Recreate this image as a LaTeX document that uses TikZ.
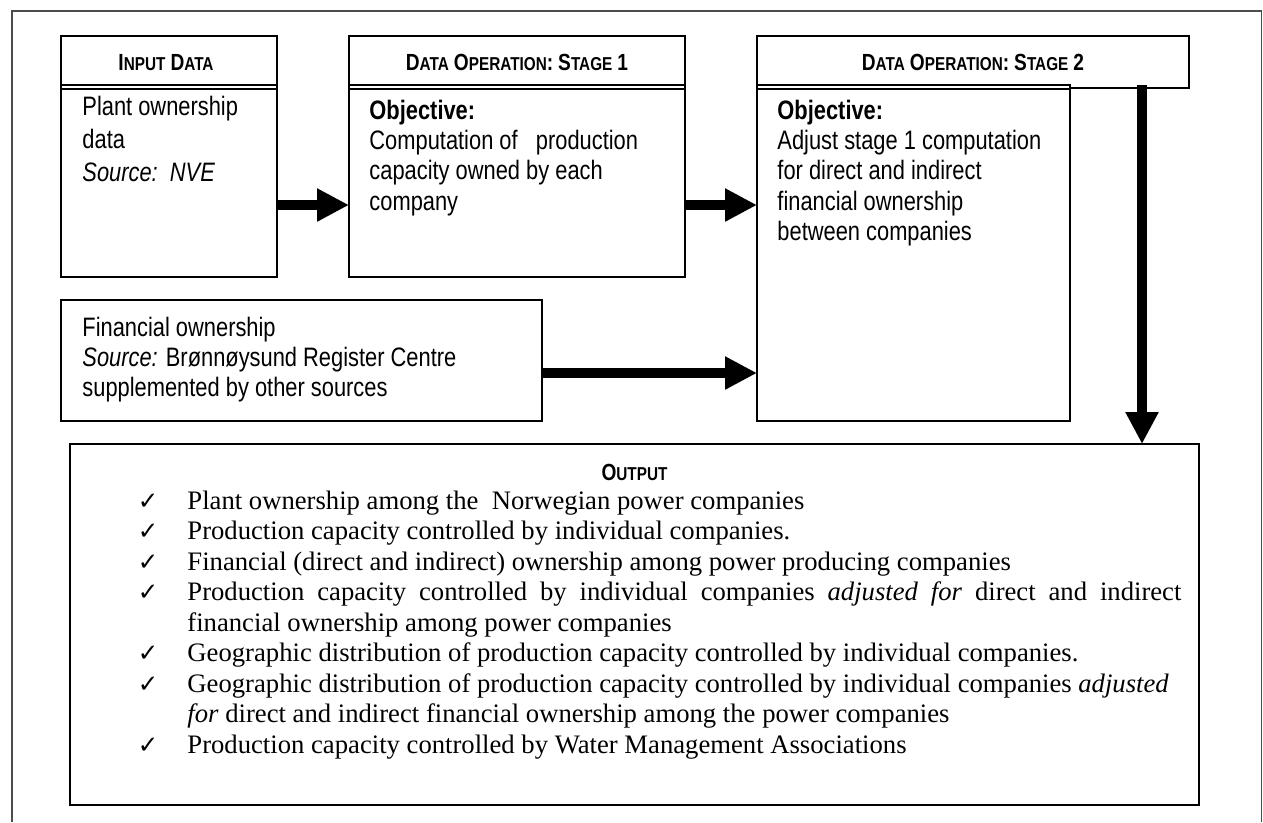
\documentclass[tikz,border=0pt]{standalone}
\usepackage{fontspec}
\setmainfont{Liberation Serif}
\newfontfamily\narrow[FakeStretch=0.82]{Liberation Sans}
\newfontfamily\dejavu{DejaVu Sans}
\usetikzlibrary{arrows.meta}
\newcommand\HSC[2]{{\fontsize{10.5}{12}\selectfont #1}{\fontsize{8.4}{10}\selectfont #2}}
\newcommand\HBG[1]{{\fontsize{10.5}{12}\selectfont #1}}
\newcommand\chk{{\dejavu\fontsize{11}{12}\selectfont ✓}}
\begin{document}
\begin{tikzpicture}[x=0.45pt,y=-0.45pt,
 box/.style={draw, line width=0.9pt, inner sep=0pt, outer sep=0pt},
 obox/.style={draw, line width=1.3pt, inner sep=0pt, outer sep=0pt},
 framestyle/.style={draw=black!70, line width=0.7pt},
 dline/.style={line width=0.9pt},
 sans/.style={inner sep=0pt, anchor=base west, font=\narrow\fontsize{12}{13.7}\selectfont},
 sanswide/.style={inner sep=0pt, anchor=base west, font=\narrow\fontsize{12}{14.85}\selectfont},
 hdrtxt/.style={inner sep=0pt, anchor=base, font=\narrow\bfseries},
 serif/.style={inner sep=0pt, anchor=base west, font=\fontsize{12}{13.7}\selectfont},
 chkmark/.style={inner sep=0pt, anchor=base},
 fat/.style={line width=4.7pt, -{Triangle[length=14.4pt,width=14pt]}},
]
\useasboundingbox (0,0) rectangle (1263,822);
\draw[framestyle] (12,822) -- (12,11) -- (1261.5,11) -- (1261.5,822);

% boxes
\node[box, minimum width=97.2pt, minimum height=108.45pt] (inp) at (169,156.5) {};
\node[box, minimum width=151.2pt, minimum height=108.45pt] (st1) at (517,156.5) {};
\node[box, minimum width=194.4pt, minimum height=23.6pt] (st2h) at (973,62.25) {};
\node[box, fill=white, minimum width=140.85pt, minimum height=151.2pt] (st2b) at (913.5,253) {};
\node[box, minimum width=216.45pt, minimum height=54.45pt] (fin) at (301.5,360.5) {};
\node[obox, minimum width=508.05pt, minimum height=162.45pt] (out) at (634.5,624.5) {};

% header double lines
\draw[dline] (61,85) -- (277,85) (61,88.5) -- (277,88.5);
\draw[dline] (349,85) -- (685,85) (349,88.5) -- (685,88.5);
\draw[dline] (757,88.5) -- (1070,88.5);

% header texts
\node[hdrtxt] (inph) at (166,70.5) {\HSC{I}{NPUT}\ \HSC{D}{ATA}};
\node[hdrtxt] (st1hd) at (517,70.5) {\HSC{D}{ATA} \HSC{O}{PERATION}\HBG{:} \HSC{S}{TAGE} \HBG{1}};
\node[hdrtxt] (st2hd) at (973,70.5) {\HSC{D}{ATA} \HSC{O}{PERATION}\HBG{:} \HSC{S}{TAGE} \HBG{2}};

% body texts
\node[sanswide] (inptxt) at (82,115) {\parbox[t]{180pt}{Plant ownership\\data\\\textit{Source:\ \ NVE}}};
\node[sans] (st1txt) at (369,119) {\parbox[t]{140pt}{\textbf{Objective:}\\Computation of\ \ \ production\\capacity owned by each\\company}};
\node[sans] (st2txt) at (777,119) {\parbox[t]{135pt}{\textbf{Objective:}\\Adjust stage 1 computation\\for direct and indirect\\financial ownership\\between companies}};
\node[sans] (fintxt) at (82,336) {\parbox[t]{200pt}{Financial ownership\\\textit{Source:} Brønnøysund Register Centre\\supplemented by other sources}};

% arrows
\coordinate (r1) at (0,205);
\coordinate (r2) at (0,373);
\coordinate (c1) at (1142,0);
\draw[fat] (inp.east |- r1) -- (st1.west |- r1);
\draw[fat] (st1.east |- r1) -- (st2b.west |- r1);
\draw[fat] (fin.east |- r2) -- (st2b.west |- r2);
\draw[fat] (c1 |- st2b.north) -- (c1 |- out.north);

% output
\node[hdrtxt] (outh) at (634.5,480) {\HSC{O}{UTPUT}};
\node[chkmark] (k1) at (148,509) {\chk};
\node[serif] (o1) at (187,509) {Plant ownership among the\ \ Norwegian power companies};
\node[chkmark] (k2) at (148,539.5) {\chk};
\node[serif] (o2) at (187,539.5) {Production capacity controlled by individual companies.};
\node[chkmark] (k3) at (148,570) {\chk};
\node[serif] (o3) at (187,570) {Financial (direct and indirect) ownership among power producing companies};
\node[chkmark] (k4) at (148,600.5) {\chk};
\node[serif] (o4) at (187,600.5) {\makebox[447.3pt][s]{Production capacity controlled by individual companies \textit{adjusted for} direct and indirect}};
\node[serif] (o4b) at (187,631) {financial ownership among power companies};
\node[chkmark] (k5) at (148,661.5) {\chk};
\node[serif] (o5) at (187,661.5) {Geographic distribution of production capacity controlled by individual companies.};
\node[chkmark] (k6) at (148,692) {\chk};
\node[serif] (o6) at (187,692) {Geographic distribution of production capacity controlled by individual companies \textit{adjusted}};
\node[serif] (o6b) at (187,722.5) {\textit{for} direct and indirect financial ownership among the power companies};
\node[chkmark] (k7) at (148,753) {\chk};
\node[serif] (o7) at (187,753) {Production capacity controlled by Water Management Associations};
\end{tikzpicture}
\end{document}
